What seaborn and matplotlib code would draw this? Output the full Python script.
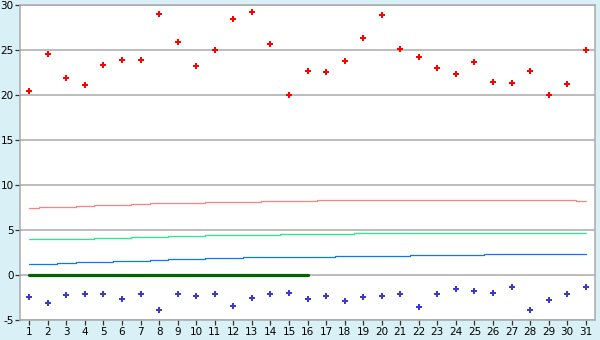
import numpy as np
import pandas as pd
import seaborn as sns
import matplotlib
matplotlib.use("Agg")
import matplotlib.pyplot as plt

# daily values
days = list(range(1, 32))
high = [20.4, 24.6, 21.9, 21.1, 23.3, 23.9, 23.9, 29.0, 25.9, 23.2,
        25.0, 28.4, 29.2, 25.7, 20.0, 22.7, 22.6, 23.8, 26.3, 28.9,
        25.1, 24.2, 23.0, 22.3, 23.7, 21.4, 21.3, 22.7, 20.0, 21.2, 25.0]
low = [-2.4, -3.1, -2.2, -2.1, -2.1, -2.7, -2.1, -3.9, -2.1, -2.3,
       -2.1, -3.4, -2.6, -2.1, -2.0, -2.7, -2.3, -2.9, -2.4, -2.3,
       -2.1, -3.6, -2.1, -1.6, -1.8, -2.0, -1.3, -3.9, -2.8, -2.1, -1.3]
norm_high = [7.4, 7.55, 7.55, 7.65, 7.75, 7.8, 7.9, 8.0, 8.0, 8.0,
             8.1, 8.1, 8.1, 8.2, 8.2, 8.2, 8.3, 8.3, 8.3, 8.3,
             8.3, 8.3, 8.3, 8.3, 8.3, 8.3, 8.3, 8.3, 8.3, 8.3, 8.2]
norm_mean = [4.0, 4.0, 4.0, 4.0, 4.1, 4.1, 4.2, 4.2, 4.3, 4.3,
             4.4, 4.4, 4.4, 4.4, 4.55, 4.55, 4.55, 4.55, 4.65, 4.65,
             4.65, 4.65, 4.65, 4.65, 4.65, 4.65, 4.65, 4.65, 4.65, 4.65, 4.65]
norm_low = [1.2, 1.2, 1.3, 1.45, 1.45, 1.55, 1.6, 1.67, 1.78, 1.78,
            1.89, 1.89, 2.0, 2.0, 2.0, 2.0, 2.0, 2.1, 2.1, 2.1,
            2.1, 2.2, 2.2, 2.2, 2.2, 2.3, 2.3, 2.3, 2.3, 2.3, 2.3]
base = [0.0] * 16 + [np.nan] * 15

df = pd.DataFrame({"day": days, "high": high, "low": low, "nh": norm_high,
                   "nm": norm_mean, "nl": norm_low, "base": base})

sns.set_style("white")
plt.rcParams['font.family'] = ['DejaVu Sans']
plt.rcParams['axes.unicode_minus'] = False

fig = plt.figure(figsize=(6, 3.4), dpi=100)
fig.patch.set_facecolor('#d9f0f6')
ax = fig.add_axes([20/600, 20/340, 575/600, 315/340])
ax.set_facecolor('white')

grid = '#aaaaaa'
for y in range(-5, 31, 5):
    ax.axhline(y, color=grid, lw=1.1, zorder=0)

sns.lineplot(data=df, x="day", y="nh", ax=ax, color='#ff8080', lw=0.9, drawstyle='steps-mid')
sns.lineplot(data=df, x="day", y="nm", ax=ax, color='#22ee88', lw=0.9, drawstyle='steps-mid')
sns.lineplot(data=df, x="day", y="nl", ax=ax, color='#0a78f0', lw=0.9, drawstyle='steps-mid')
sns.lineplot(data=df.dropna(), x="day", y="base", ax=ax, color='#006400', lw=2.3)

sns.scatterplot(data=df, x="day", y="high", ax=ax, color='#ff0000', marker='P', s=20, linewidth=0)
sns.scatterplot(data=df, x="day", y="low", ax=ax, color='#3a3acc', marker='P', s=20, linewidth=0)

ax.set_xlim(0.5, 31.5)
ax.set_ylim(-5, 30)
ax.set_xticks(days)
ax.set_yticks(range(-5, 31, 5))
ax.set_xlabel('')
ax.set_ylabel('')
for s in ax.spines.values():
    s.set_color(grid)
    s.set_linewidth(1.1)
ax.tick_params(axis='both', labelsize=7.5, colors='#333333', labelcolor='black',
               direction='out', length=3.5, width=0.9, pad=1.5)
ax.tick_params(axis='y', left=True, pad=1)
ax.tick_params(axis='x', bottom=True)

fig.savefig('out.png', dpi=100, facecolor=fig.get_facecolor())
